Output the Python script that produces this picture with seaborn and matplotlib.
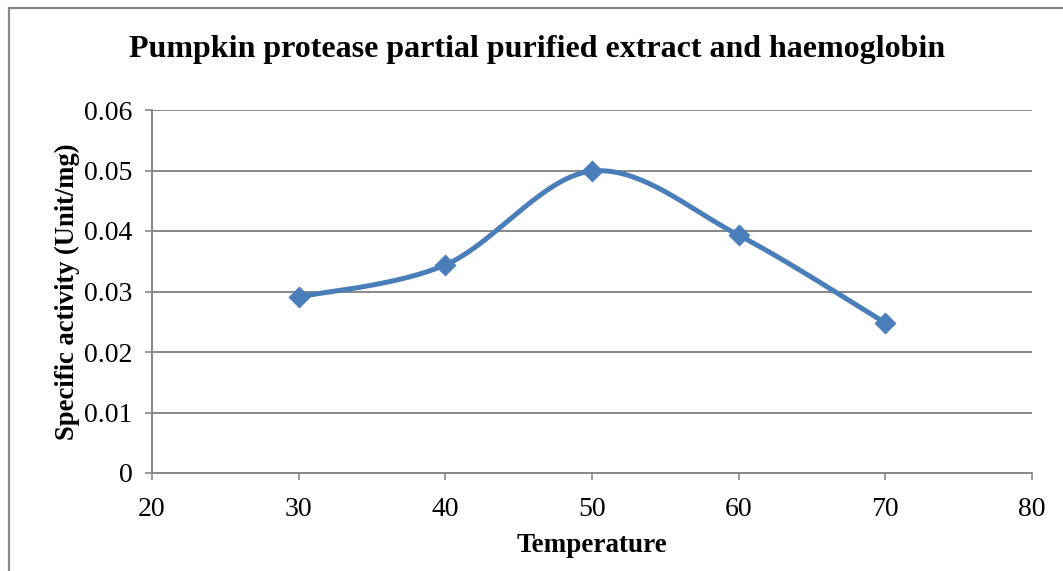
import numpy as np
import pandas as pd
import matplotlib
matplotlib.use("Agg")
import matplotlib.pyplot as plt
from matplotlib.patches import Rectangle
import seaborn as sns

# Specific activity of the partially purified pumpkin protease on haemoglobin
temperature = [30, 40, 50, 60, 70]
specific_activity = [0.0291, 0.0344, 0.0499, 0.0393, 0.0248]

x_ticks = [20, 30, 40, 50, 60, 70, 80]
y_ticks = [0, 0.01, 0.02, 0.03, 0.04, 0.05, 0.06]
y_tick_labels = ["0", "0.01", "0.02", "0.03", "0.04", "0.05", "0.06"]

title = "Pumpkin protease partial purified extract and haemoglobin"
x_label = "Temperature"
y_label = "Specific activity (Unit/mg)"

LINE_BLUE = "#4A7EBB"
GRID_GREY = "#878787"


def smooth_curve(xs, ys, steps=40):
    """Catmull-Rom smoothing between consecutive points (spreadsheet-style smoothed line)."""
    px = np.asarray(xs, dtype=float)
    py = np.asarray(ys, dtype=float)
    px = np.concatenate([[px[0]], px, [px[-1]]])
    py = np.concatenate([[py[0]], py, [py[-1]]])
    out_x, out_y = [], []
    t = np.linspace(0, 1, steps)
    for i in range(1, len(px) - 2):
        p0, p1, p2, p3 = (np.array([px[j], py[j]]) for j in range(i - 1, i + 3))
        c1 = p1 + (p2 - p0) / 6.0
        c2 = p2 - (p3 - p1) / 6.0
        b = ((1 - t) ** 3)[:, None] * p1 + (3 * (1 - t) ** 2 * t)[:, None] * c1 \
            + (3 * (1 - t) * t ** 2)[:, None] * c2 + (t ** 3)[:, None] * p2
        if i > 1:
            b = b[1:]
        out_x.extend(b[:, 0])
        out_y.extend(b[:, 1])
    return np.array(out_x), np.array(out_y)


sns.set_style("white")
plt.rcParams["font.family"] = ["Liberation Serif", "DejaVu Serif"]
plt.rcParams["text.color"] = "black"
plt.rcParams["axes.labelcolor"] = "black"
plt.rcParams["xtick.color"] = "black"
plt.rcParams["ytick.color"] = "black"

fig = plt.figure(figsize=(10.63, 5.71), dpi=100)
W, H = 1063, 571
ax = fig.add_axes([152 / W, 1 - 473 / H, (1032 - 152) / W, (473 - 110) / H])

points = pd.DataFrame({"Temperature": temperature, "Activity": specific_activity})
sx, sy = smooth_curve(temperature, specific_activity)
curve = pd.DataFrame({"Temperature": sx, "Activity": sy})

sns.lineplot(data=curve, x="Temperature", y="Activity", ax=ax, color=LINE_BLUE,
             linewidth=3.6, sort=False, estimator=None, zorder=3)
sns.scatterplot(data=points, x="Temperature", y="Activity", ax=ax, marker="D",
                s=115, color=LINE_BLUE, edgecolor=LINE_BLUE, linewidth=0.5, zorder=4)

ax.set_xlim(20, 80)
ax.set_ylim(0, 0.06)
ax.set_xticks(x_ticks)
ax.set_xticklabels([str(v) for v in x_ticks])
ax.set_yticks(y_ticks)
ax.set_yticklabels(y_tick_labels)

ax.yaxis.grid(True, color=GRID_GREY, linewidth=1.4)
ax.xaxis.grid(False)
ax.set_axisbelow(True)
for side in ["top", "right"]:
    ax.spines[side].set_visible(False)
for side in ["left", "bottom"]:
    ax.spines[side].set_color(GRID_GREY)
    ax.spines[side].set_linewidth(1.4)

ax.tick_params(axis="both", which="major", direction="out", length=5, width=1.2,
               color=GRID_GREY, labelsize=20, labelcolor="black",
               bottom=True, left=True)
ax.tick_params(axis="x", pad=12.5)
ax.tick_params(axis="y", pad=9)

ax.set_xlabel(x_label, fontsize=19.5, fontweight="bold", labelpad=8)
ax.set_ylabel(y_label, fontsize=19.2, fontweight="bold", labelpad=3)

fig.text(537 / W, 1 - 49 / H, title, ha="center", va="center",
         fontsize=23, fontweight="bold")

# chart frame
fig.patches.append(Rectangle((9 / W, -0.05), 1.2, 1 - 8 / H + 0.05,
                             transform=fig.transFigure, fill=False,
                             edgecolor=GRID_GREY, linewidth=1.6))

fig.savefig("out.png", dpi=100)
